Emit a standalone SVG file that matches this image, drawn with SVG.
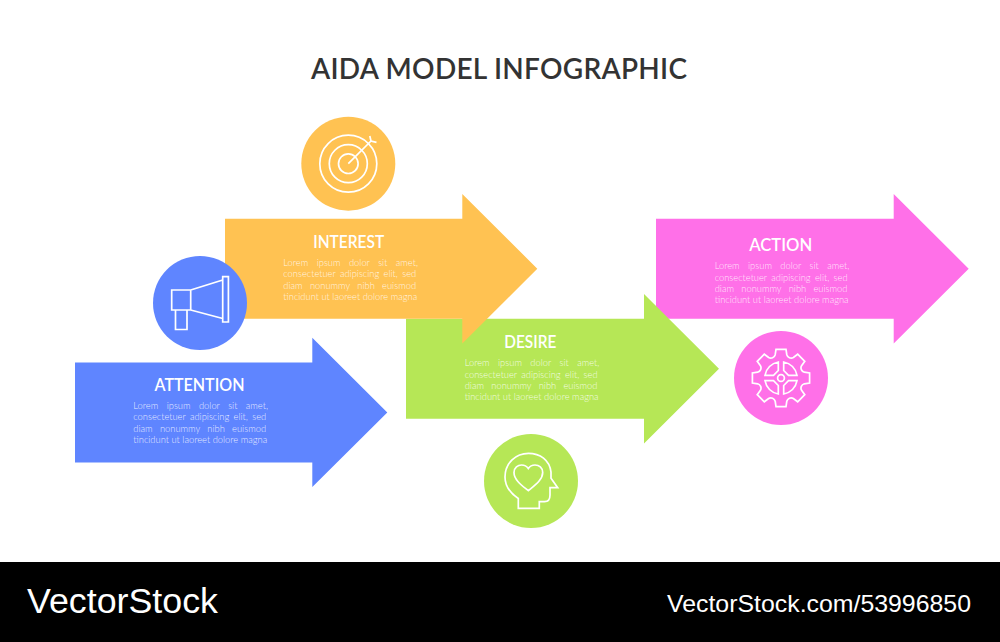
<svg xmlns="http://www.w3.org/2000/svg" width="1000" height="642" viewBox="0 0 1000 642">
<style>
.title{font-family:"Lato","Liberation Sans",sans-serif;font-size:28px;font-weight:600;fill:#333333}
.head{font-family:"Lato","Liberation Sans",sans-serif;font-size:18px;font-weight:600;fill:#fff;text-anchor:middle}
.body{font-family:"Lato","Liberation Sans",sans-serif;font-size:9.35px;font-weight:300;fill:#fff;fill-opacity:.85}
.l1{word-spacing:5.9px}.l2{word-spacing:1.8px}.l3{word-spacing:4.8px}.l4{word-spacing:0}
.icon{fill:none;stroke:#fff;stroke-width:1.7;stroke-linejoin:miter}
.brand{font-family:"Liberation Sans",Arial,sans-serif;fill:#fff}
</style>
<rect width="1000" height="642" fill="#fff"/>
<text class="title" x="311" y="78.5" textLength="376" lengthAdjust="spacing">AIDA MODEL INFOGRAPHIC</text>

<g id="action">
<path fill="#FF70E8" d="M656 218.7H893.7V194L968.7 268.7L893.7 343.4V318.7H656Z"/>
<text class="head" x="780.7" y="250.7" textLength="63" lengthAdjust="spacingAndGlyphs">ACTION</text>
<text class="body l1" x="714.7" y="269.3">Lorem ipsum dolor sit amet,</text>
<text class="body l2" x="714.7" y="280.6">consectetuer adipiscing elit, sed</text>
<text class="body l3" x="714.7" y="291.9">diam nonummy nibh euismod</text>
<text class="body l4" x="714.7" y="303.2">tincidunt ut laoreet dolore magna</text>
</g>
<g id="desire">
<path fill="#B6E756" d="M406 318.7H644V294L719 368.7L644 443.4V418.7H406Z"/>
<text class="head" x="530.3" y="348" textLength="52" lengthAdjust="spacingAndGlyphs">DESIRE</text>
<text class="body l1" x="464.7" y="366.3">Lorem ipsum dolor sit amet,</text>
<text class="body l2" x="464.7" y="377.6">consectetuer adipiscing elit, sed</text>
<text class="body l3" x="464.7" y="388.9">diam nonummy nibh euismod</text>
<text class="body l4" x="464.7" y="400.2">tincidunt ut laoreet dolore magna</text>
</g>
<g id="interest">
<path fill="#FFC252" d="M225 218.7H462.3V194L537.3 268.7L462.3 343.4V318.7H225Z"/>
<text class="head" x="348.7" y="247.7" textLength="71" lengthAdjust="spacingAndGlyphs">INTEREST</text>
<text class="body l1" x="283.3" y="266">Lorem ipsum dolor sit amet,</text>
<text class="body l2" x="283.3" y="277.3">consectetuer adipiscing elit, sed</text>
<text class="body l3" x="283.3" y="288.6">diam nonummy nibh euismod</text>
<text class="body l4" x="283.3" y="299.9">tincidunt ut laoreet dolore magna</text>
</g>
<g id="attention">
<path fill="#5F85FF" d="M75 362.4H312.3V337.7L387.3 412.4L312.3 487.1V462.4H75Z"/>
<text class="head" x="199.5" y="390.5" textLength="90" lengthAdjust="spacingAndGlyphs">ATTENTION</text>
<text class="body l1" x="133.3" y="409">Lorem ipsum dolor sit amet,</text>
<text class="body l2" x="133.3" y="420.3">consectetuer adipiscing elit, sed</text>
<text class="body l3" x="133.3" y="431.6">diam nonummy nibh euismod</text>
<text class="body l4" x="133.3" y="442.9">tincidunt ut laoreet dolore magna</text>
</g>

<g id="icon-attention">
<circle cx="200" cy="303" r="47" fill="#5F85FF"/>
<path class="icon" d="M171.7 290H190.7V310H171.7ZM175.5 310H187V329.5H175.5ZM190.7 290L222.7 280M190.7 310L222.7 318.5M222.7 276.7H228.4V322H222.7Z"/>
</g>
<g id="icon-interest">
<circle cx="348.3" cy="163.7" r="47" fill="#FFC252"/>
<circle class="icon" cx="348.3" cy="163.7" r="28.5"/>
<circle class="icon" cx="348.3" cy="163.7" r="19"/>
<circle class="icon" cx="348.3" cy="163.7" r="9.8"/>
<path class="icon" d="M348.3 163.7L371 141M369.8 136L371 141L376.5 142.3"/>
</g>
<g id="icon-desire">
<circle cx="531" cy="481" r="47" fill="#B6E756"/>
<path class="icon" d="M518.3 508.3V498.5C510 493 505 486 505 477C505 463 516 453.3 528.5 453.3C540 453.3 549.5 460 551 472V478.3L557.7 487.7H550V495C550 499 548 501.7 544.5 501.7H539.3V508.3Z"/>
<path class="icon" d="M528.3 490.7C522 485.5 514 480 514 472.5C514 467.5 518 465 521.5 465C524.5 465 527 466.5 528.3 468.5C529.6 466.5 532 465 535 465C539 465 542.7 467.5 542.7 472.5C542.7 480 534.5 485.5 528.3 490.7Z"/>
</g>
<g id="icon-action">
<circle cx="781" cy="378" r="47" fill="#FF70E8"/>
<g transform="translate(781 378)">
<path class="icon" d="M-5.8 -23.3L-5 -28.6H5L5.8 -23.3A4.5 4.5 0 0 0 12.37 -20.58L16.69 -23.76L23.76 -16.69L20.58 -12.37A4.5 4.5 0 0 0 23.3 -5.8L28.6 -5V5L23.3 5.8A4.5 4.5 0 0 0 20.58 12.37L23.76 16.69L16.69 23.76L12.37 20.58A4.5 4.5 0 0 0 5.8 23.3L5 28.6H-5L-5.8 23.3A4.5 4.5 0 0 0 -12.37 20.58L-16.69 23.76L-23.76 16.69L-20.58 12.37A4.5 4.5 0 0 0 -23.3 5.8L-28.6 5V-5L-23.3 -5.8A4.5 4.5 0 0 0 -20.58 -12.37L-23.76 -16.69L-16.69 -23.76L-12.37 -20.58A4.5 4.5 0 0 0 -5.8 -23.3Z"/>
<circle class="icon" r="3.4"/>
<path class="icon" d="M-16 -2.7A16.2 16.2 0 0 1 -2.7 -16V-7.5L-7.5 -2.7ZM16 -2.7A16.2 16.2 0 0 0 2.7 -16V-7.5L7.5 -2.7ZM-16 2.7A16.2 16.2 0 0 0 -2.7 16V7.5L-7.5 2.7ZM16 2.7A16.2 16.2 0 0 1 2.7 16V7.5L7.5 2.7Z"/>
</g>
</g>

<g id="footer">
<rect y="562" width="1000" height="80" fill="#000"/>
<text class="brand" x="27" y="613" font-size="35" textLength="191" lengthAdjust="spacingAndGlyphs">VectorStock</text>
<text class="brand" x="667" y="612" font-size="24" textLength="304" lengthAdjust="spacingAndGlyphs">VectorStock.com/53996850</text>
</g>
</svg>
